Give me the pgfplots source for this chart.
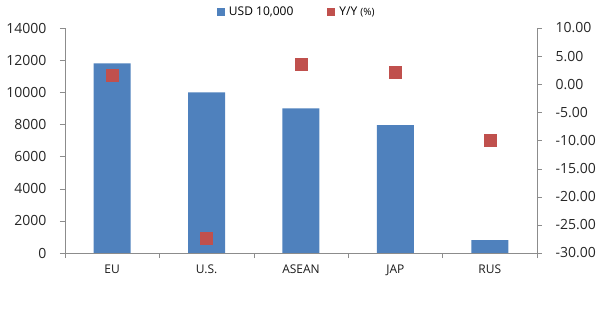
\documentclass[border=0pt]{standalone}
\usepackage{pgfplots}
\pgfplotsset{compat=1.18}
\usepackage{fontspec}
\setmainfont{Open Sans}
\definecolor{barblue}{HTML}{4F81BD}
\definecolor{mred}{HTML}{C0504D}
\definecolor{axgray}{HTML}{8C8C8C}
\begin{document}
\begin{tikzpicture}
\path[use as bounding box] (-65bp,-82bp) rectangle (535bp,253bp);
\begin{axis}[
  at={(0,0)}, anchor=south west,
  scale only axis, width=472bp, height=225bp,
  xmin=-0.5, xmax=4.5, ymin=0, ymax=14000,
  axis x line*=bottom, axis y line*=left,
  axis line style={draw=axgray,-},
  ytick={0,2000,...,14000},
  xtick={0,...,4},
  xticklabels={EU,U.S.,ASEAN,JAP,RUS},
  minor xtick={-0.5,0.5,...,4.5},
  major x tick style={draw=none},
  tick align=outside,
  tick style={axgray},
  major tick length=5bp, minor tick length=5bp,
  scaled y ticks=false,
  /pgf/number format/assume math mode=true,
  yticklabel style={/pgf/number format/fixed,/pgf/number format/1000 sep={},
    font=\fontsize{14bp}{16bp}\selectfont, text=black!85, xshift=-10bp},
  xticklabel style={font=\fontsize{12bp}{14bp}\selectfont, text=black!90, yshift=-3bp},
  ybar, bar width=37bp,
]
\addplot[fill=barblue, draw=none, ybar] coordinates {(0,11800) (1,10000) (2,9000) (3,7950) (4,800)};
\end{axis}
\begin{axis}[
  at={(0,0)}, anchor=south west,
  scale only axis, width=472bp, height=225bp,
  xmin=-0.5, xmax=4.5, ymin=-30, ymax=10,
  axis x line=none, axis y line*=right,
  axis line style={draw=axgray,-},
  ytick={-30,-25,...,10},
  tick align=outside,
  tick style={axgray},
  major tick length=5bp,
  /pgf/number format/assume math mode=true,
  yticklabel style={/pgf/number format/fixed,/pgf/number format/fixed zerofill,/pgf/number format/precision=2,
    font=\fontsize{14bp}{16bp}\selectfont, text=black!85, xshift=10bp},
  legend columns=2,
  legend style={draw=none, at={(0.491,1.071)}, anchor=center, fill=none,
    font=\fontsize{12bp}{13bp}\selectfont,
    /tikz/every odd column/.style={column sep=3bp},
    /tikz/every even column/.style={column sep=32bp}},
]
\addlegendimage{only marks, mark=square*, mark size=3.5bp, color=barblue}
\addlegendentry{USD 10,000}
\addlegendimage{only marks, mark=square*, mark size=3.5bp, color=mred}
\addlegendentry{Y/Y {\fontsize{10bp}{11bp}\selectfont(\%)}}
\addplot[only marks, mark=square*, mark size=6bp, color=mred, forget plot] coordinates {(0,1.6) (1,-27.4) (2,3.6) (3,2.1) (4,-10.0)};
\end{axis}
\end{tikzpicture}
\end{document}
